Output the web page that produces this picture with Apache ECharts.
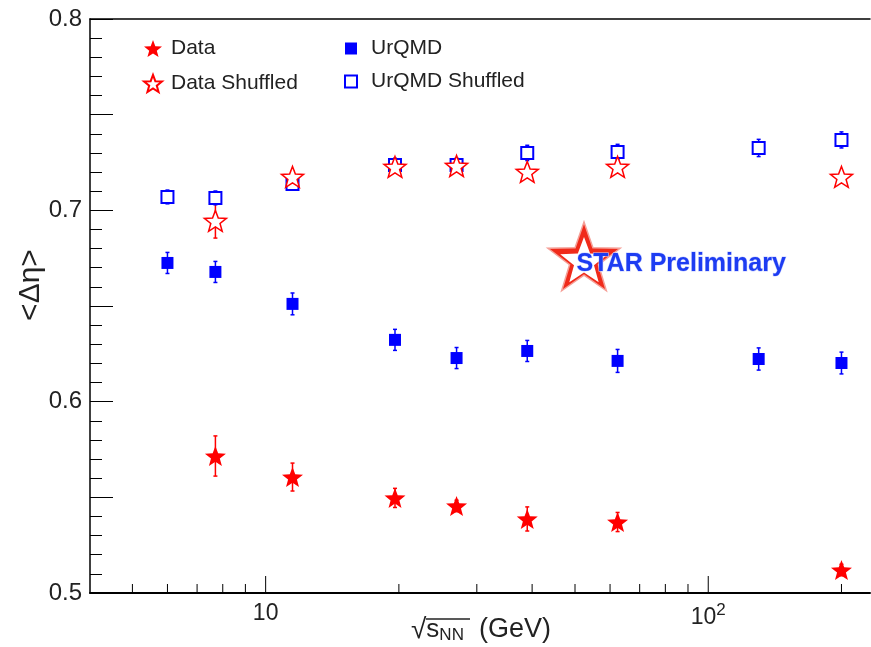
<!DOCTYPE html>
<html>
<head>
<meta charset="utf-8">
<script src="https://cdn.jsdelivr.net/npm/echarts@6/dist/echarts.min.js"></script>
<style>html,body{margin:0;padding:0;background:#fff;}#c{width:871px;height:647px;}</style>
</head>
<body>
<div id="c"></div>
<script>
// ---- data ----
const dataEnergy   = [7.7, 11.5, 19.6, 27, 39, 62.4, 200];
const dataVals     = [0.5716, 0.5606, 0.5497, 0.5455, 0.5387, 0.5371, 0.5120];
const dataErr      = [0.0105, 0.0073, 0.0050, 0.0030, 0.0063, 0.0050, 0.0030];
const dataShufVals = [0.6945, 0.7175, 0.7227, 0.7232, 0.7201, 0.7227, 0.7175];
const dataShufErr  = [0.0090, 0.0030, 0.0020, 0.0020, 0.0020, 0.0020, 0.0020];

const urqmdEnergy   = [6.0, 7.7, 11.5, 19.6, 27, 39, 62.4, 130, 200];
const urqmdVals     = [0.6725, 0.6678, 0.6511, 0.6323, 0.6228, 0.6265, 0.6213, 0.6223, 0.6202];
const urqmdErr      = [0.0055, 0.0055, 0.0057, 0.0055, 0.0055, 0.0055, 0.0060, 0.0058, 0.0057];
const urqmdShufVals = [0.7070, 0.7065, 0.7138, 0.7237, 0.7237, 0.7300, 0.7305, 0.7326, 0.7368];
const urqmdShufErr  = [0.0036, 0.0036, 0.0030, 0.0035, 0.0035, 0.0040, 0.0040, 0.0045, 0.0042];

const xMajorTicks = [10, 100];
const xMinorTicks = [5, 6, 7, 8, 9, 20, 30, 40, 50, 60, 70, 80, 90, 200];
const yLabels = [0.5, 0.6, 0.7, 0.8];
const xMin = 4.01, xMax = 232, yMin = 0.5, yMax = 0.8;

// ---- helpers ----
const FONT = '"Liberation Sans", Arial, Helvetica, sans-serif';
const RED = '#ff0000', BLUE = '#0000ff', TXT = '#222';

function starPoints(cx, cy, R, ratio, rotDeg) {
  const pts = [];
  for (let i = 0; i < 10; i++) {
    const a = (-90 + rotDeg + i * 36) * Math.PI / 180;
    const r = i % 2 === 0 ? R : R * ratio;
    pts.push([cx + r * Math.cos(a), cy + r * Math.sin(a)]);
  }
  return pts;
}
function starPath(ratio) {
  const p = starPoints(50, 50, 50, ratio, 0);
  return 'path://M' + p.map(q => q[0].toFixed(2) + ',' + q[1].toFixed(2)).join('L') + 'Z';
}
const STAR = starPath(0.42);

function zip(xs, ys, es) { return xs.map((x, i) => es ? [x, ys[i], es[i]] : [x, ys[i]]); }

function errSeries(name, xs, ys, es, color) {
  return {
    type: 'custom', name: name + ' err', z: 2, silent: true,
    data: zip(xs, ys, es),
    encode: { x: 0, y: 1 },
    renderItem: function (params, api) {
      const x = api.value(0), y = api.value(1), e = api.value(2);
      const t = api.coord([x, y + e]), b = api.coord([x, y - e]);
      const st = { stroke: color, lineWidth: 1.5 };
      return { type: 'group', children: [
        { type: 'line', shape: { x1: t[0], y1: t[1], x2: b[0], y2: b[1] }, style: st },
        { type: 'line', shape: { x1: t[0] - 2, y1: t[1], x2: t[0] + 2, y2: t[1] }, style: st },
        { type: 'line', shape: { x1: b[0] - 2, y1: b[1], x2: b[0] + 2, y2: b[1] }, style: st }
      ]};
    }
  };
}

const tickData = xMajorTicks.map(v => [v, yMin, 1]).concat(xMinorTicks.map(v => [v, yMin, 0]));

const chart = echarts.init(document.getElementById('c'), null, { renderer: 'canvas' });

const option = {
  backgroundColor: '#fff',
  animation: false,
  grid: { left: 90, right: 1, top: 19, bottom: 54, containLabel: false },
  xAxis: [{
    type: 'log', logBase: 10, min: xMin, max: xMax,
    axisLine: { show: true, lineStyle: { color: '#000', width: 2 } },
    axisTick: { show: false },
    splitLine: { show: false },
    axisLabel: {
      show: true, showMinLabel: false, showMaxLabel: false, margin: 9,
      color: TXT, fontFamily: FONT, fontSize: 23,
      formatter: function (v) {
        if (Math.abs(v - 10) < 1e-6) return '10';
        if (Math.abs(v - 100) < 1e-6) return '10{sup|2}';
        return '';
      },
      rich: { sup: { fontSize: 17, verticalAlign: 'top', padding: [0, 0, 14, 0], color: TXT, fontFamily: FONT } }
    }
  }, {
    type: 'log', logBase: 10, min: xMin, max: xMax, position: 'top',
    axisLine: { show: true, lineStyle: { color: '#000', width: 1.5 } },
    axisTick: { show: false }, axisLabel: { show: false }, splitLine: { show: false }
  }],
  yAxis: {
    type: 'value', min: yMin, max: yMax, interval: 0.05,
    axisLine: { show: true, lineStyle: { color: '#000', width: 1.5 } },
    axisTick: { show: true, inside: true, length: 23, lineStyle: { color: '#000', width: 1 } },
    minorTick: { show: true, splitNumber: 5, length: 12, lineStyle: { color: '#000', width: 1 } },
    splitLine: { show: false },
    axisLabel: {
      margin: 8, color: TXT, fontFamily: FONT, fontSize: 24,
      formatter: function (v) {
        return yLabels.some(l => Math.abs(l - v) < 1e-6) ? v.toFixed(1) : '';
      }
    }
  },
  legend: [{
    left: 138, top: 33, orient: 'vertical', itemWidth: 18, itemHeight: 18, itemGap: 14,
    data: ['Data', 'Data Shuffled'], selectedMode: false,
    textStyle: { color: TXT, fontFamily: FONT, fontSize: 21, padding: [0, 0, 0, 4] }
  }, {
    left: 339, top: 33, orient: 'vertical', itemWidth: 12, itemHeight: 12, itemGap: 12,
    data: ['UrQMD', 'UrQMD Shuffled'], selectedMode: false,
    textStyle: { color: TXT, fontFamily: FONT, fontSize: 21, padding: [0, 0, 0, 9] }
  }],
  graphic: [
    { type: 'polygon', z: 50, shape: { points: starPoints(584, 260, 38, 0.4, 0) },
      style: { fill: '#f02a1a', stroke: '#f5a098', lineWidth: 1.5 } },
    { type: 'polygon', z: 51, shape: { points: starPoints(584, 262, 25, 0.42, 0) },
      style: { fill: '#ffffff' } },
    { type: 'text', z: 52, left: 576, top: 251,
      style: { text: 'STAR Preliminary', fill: '#1d3cf2', font: 'bold 25px ' + FONT,
        stroke: '#c8d0ff', lineWidth: 1 } },
    { type: 'text', z: 20, x: 31, y: 285, rotation: Math.PI / 2,
      style: { text: '<Δη>', fill: TXT, font: '30px ' + FONT, align: 'center', verticalAlign: 'middle' } },
    { type: 'text', z: 20, left: 411, top: 616,
      style: { rich: {
          r: { fontSize: 28, fontFamily: FONT, fill: TXT },
          s: { fontSize: 26, fontFamily: FONT, fill: TXT },
          n: { fontSize: 17, fontFamily: FONT, fill: TXT, verticalAlign: 'bottom', padding: [9, 0, 0, 0] },
          t: { fontSize: 27, fontFamily: FONT, fill: TXT }
        },
        text: '{r|√}{s|s}{n|NN}{t|  (GeV)}' } },
    { type: 'line', z: 20, shape: { x1: 426, y1: 619, x2: 470, y2: 619 }, style: { stroke: TXT, lineWidth: 1.3 } }
  ],
  series: [
    {
      type: 'custom', name: 'xticks', silent: true, z: 5,
      data: tickData, encode: { x: 0, y: 1 },
      renderItem: function (params, api) {
        const p = api.coord([api.value(0), api.value(1)]);
        const len = api.value(2) ? 17 : 9;
        return { type: 'line', shape: { x1: p[0], y1: p[1], x2: p[0], y2: p[1] - len },
          style: { stroke: '#000', lineWidth: 1 } };
      }
    },
    errSeries('Data', dataEnergy, dataVals, dataErr, RED),
    errSeries('Data Shuffled', dataEnergy, dataShufVals, dataShufErr, RED),
    errSeries('UrQMD', urqmdEnergy, urqmdVals, urqmdErr, BLUE),
    errSeries('UrQMD Shuffled', urqmdEnergy, urqmdShufVals, urqmdShufErr, BLUE),
    { type: 'scatter', name: 'UrQMD', z: 10, data: zip(urqmdEnergy, urqmdVals),
      symbol: 'rect', symbolSize: 12, itemStyle: { color: BLUE, opacity: 1 } },
    { type: 'scatter', name: 'UrQMD Shuffled', z: 10, data: zip(urqmdEnergy, urqmdShufVals),
      symbol: 'rect', symbolSize: 12, itemStyle: { color: '#fff', borderColor: BLUE, borderWidth: 2, opacity: 1 } },
    { type: 'scatter', name: 'Data', z: 11, data: zip(dataEnergy, dataVals),
      symbol: STAR, symbolKeepAspect: true, symbolSize: 21, itemStyle: { color: RED, opacity: 1 } },
    { type: 'scatter', name: 'Data Shuffled', z: 11, data: zip(dataEnergy, dataShufVals),
      symbol: STAR, symbolKeepAspect: true, symbolSize: 22,
      itemStyle: { color: '#fff', borderColor: RED, borderWidth: 1.5, opacity: 1 } }
  ]
};
chart.setOption(option);
</script>
</body>
</html>
